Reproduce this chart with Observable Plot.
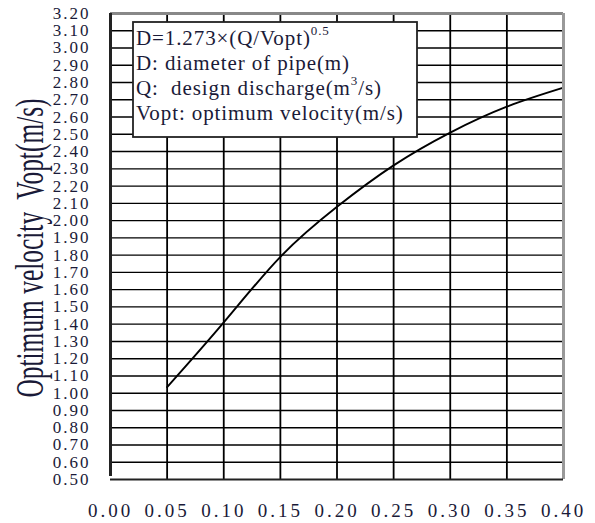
<!DOCTYPE html>
<html>
<head>
<meta charset="utf-8">
<script src="https://cdn.jsdelivr.net/npm/d3@7"></script>
<script src="https://cdn.jsdelivr.net/npm/@observablehq/plot@0.6"></script>
<style>
  html, body { margin: 0; padding: 0; background: #fff; }
  #chart svg { display: block; }
  #chart svg, #chart svg text { font-family: "Liberation Serif", "DejaVu Serif", serif !important; }
</style>
</head>
<body>
<div id="chart"></div>
<script>
// Data
const discharge = [0.05, 0.10, 0.15, 0.20, 0.25, 0.30, 0.35, 0.40];
const velocity  = [1.035, 1.41, 1.79, 2.08, 2.32, 2.51, 2.66, 2.77];
const xTicks = [0.00, 0.05, 0.10, 0.15, 0.20, 0.25, 0.30, 0.35, 0.40];
const yTicks = [0.50, 0.60, 0.70, 0.80, 0.90, 1.00, 1.10, 1.20, 1.30, 1.40, 1.50, 1.60, 1.70, 1.80, 1.90, 2.00,
                2.10, 2.20, 2.30, 2.40, 2.50, 2.60, 2.70, 2.80, 2.90, 3.00, 3.10, 3.20];
const yTitle = "Optimum velocity  Vopt(m/s)";
const legendLines = [
  ["D=1.273×(Q/Vopt)", "0.5", ""],
  ["D:\u00a0diameter of pipe(m)", "", ""],
  ["Q:\u00a0\u00a0design discharge(m", "3", "/s)"],
  ["Vopt: optimum velocity(m/s)", "", ""]
];

const data = discharge.map((q, i) => ({q, v: velocity[i]}));
const xDomain = [xTicks[0], xTicks[xTicks.length - 1]];
const yDomain = [yTicks[0], yTicks[yTicks.length - 1]];
const ink = "#1a1a38";

const chart = Plot.plot({
  width: 595,
  height: 523,
  marginLeft: 110,
  marginRight: 32,
  marginTop: 13,
  marginBottom: 44,
  x: {domain: xDomain},
  y: {domain: yDomain},
  style: {background: "#fff", overflow: "visible"},
  marks: [
    Plot.ruleX(xTicks.slice(1, -1), {stroke: "#000", strokeWidth: 1.8}),
    Plot.ruleY(yTicks.slice(1, -1), {stroke: "#000", strokeWidth: 1.4}),
    Plot.line(data, {x: "q", y: "v", curve: "natural", stroke: "#000", strokeWidth: 1.9}),
    // frame
    Plot.ruleY([yDomain[1]], {stroke: "#888", strokeWidth: 3}),
    Plot.ruleX([xDomain[1]], {stroke: "#999", strokeWidth: 3}),
    Plot.ruleY([yDomain[0]], {stroke: "#222", strokeWidth: 2.2}),
    Plot.ruleX([xDomain[0]], {stroke: "#222", strokeWidth: 3, y1: yDomain[0], y2: yDomain[1], insetTop: -3}),
    Plot.axisY(yTicks, {tickSize: 0, tickPadding: 20, fontSize: 17, fill: ink, label: null,
      tickFormat: d => d.toFixed(2)}),
    Plot.axisX(xTicks, {tickSize: 0, tickPadding: 24, fontSize: 19, fill: ink, label: null,
      tickFormat: d => d.toFixed(2)})
  ]
});

const svg = d3.select(chart);
svg.selectAll("g[aria-label='y-axis tick label'] text").style("letter-spacing", "2px");
svg.selectAll("g[aria-label='x-axis tick label'] text").style("letter-spacing", "3px");

// Y-axis title (condensed serif)
svg.append("text")
  .attr("transform", "translate(43,248) rotate(-90) scale(0.62,1)")
  .attr("text-anchor", "middle")
  .attr("font-size", 41)
  .attr("fill", ink)
  .style("white-space", "pre")
  .text(yTitle);

// Legend box
const lg = svg.append("g").attr("text-anchor", "start");
lg.append("rect")
  .attr("x", 133).attr("y", 22).attr("width", 284).attr("height", 115)
  .attr("fill", "#fff").attr("stroke", "#222").attr("stroke-width", 1.8);
legendLines.forEach((parts, i) => {
  const t = lg.append("text")
    .attr("x", 136).attr("y", 45 + i * 25)
    .attr("text-anchor", "start")
    .attr("font-size", 21)
    .attr("fill", ink)
    .style("letter-spacing", "0.9px")
    .style("white-space", "pre");
  t.append("tspan").text(parts[0]);
  if (parts[1]) t.append("tspan").attr("font-size", 13).attr("dy", -10).text(parts[1]);
  if (parts[2]) t.append("tspan").attr("dy", 10).text(parts[2]);
});

document.getElementById("chart").appendChild(chart);
</script>
</body>
</html>
